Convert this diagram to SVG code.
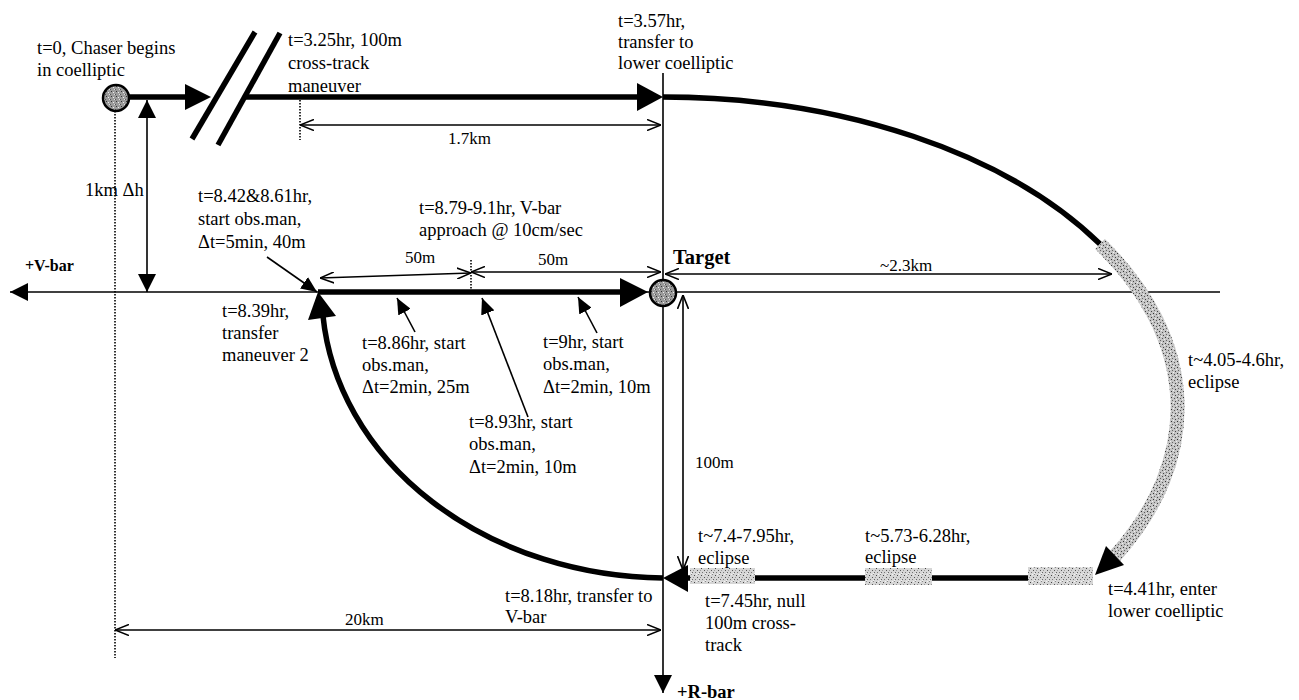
<svg xmlns="http://www.w3.org/2000/svg" width="1299" height="700" viewBox="0 0 1299 700">
<style>
text{font-family:"Liberation Serif","Times New Roman",serif;fill:#000}
.m{font-size:18.5px}
.s{font-size:17px}
.b{font-weight:bold}
.thin{stroke:#000;stroke-width:1.6;fill:none}
.thick{stroke:#000;stroke-width:5.5;fill:none}
.dot{stroke:#000;stroke-width:1.6;stroke-dasharray:1.5 1.5;fill:none}
.head{fill:#000}
</style>
<defs>
<pattern id="spk" width="7" height="7" patternUnits="userSpaceOnUse">
<rect width="7" height="7" fill="#d6d6d6"/>
<rect x="1" y="1" width="1" height="1" fill="#444"/>
<rect x="4" y="3" width="1" height="1" fill="#555"/>
<rect x="2" y="5" width="1" height="1" fill="#777"/>
<rect x="5" y="0" width="1" height="1" fill="#888"/>
<rect x="6" y="5" width="1" height="1" fill="#666"/>
<rect x="0" y="3" width="1" height="1" fill="#999"/>
<rect x="3" y="0" width="1" height="1" fill="#f4f4f4"/>
<rect x="5" y="6" width="1" height="1" fill="#f4f4f4"/>
</pattern>
<pattern id="spk3" width="6" height="6" patternUnits="userSpaceOnUse">
<rect width="6" height="6" fill="#c4c4c4"/>
<rect x="1" y="1" width="1" height="1" fill="#333"/>
<rect x="4" y="2" width="1" height="1" fill="#555"/>
<rect x="2" y="4" width="1" height="1" fill="#666"/>
<rect x="5" y="5" width="1" height="1" fill="#444"/>
<rect x="0" y="3" width="1" height="1" fill="#eee"/>
<rect x="3" y="0" width="1" height="1" fill="#f2f2f2"/>
</pattern>
<pattern id="spk2" width="5" height="5" patternUnits="userSpaceOnUse">
<rect width="5" height="5" fill="#9a9a9a"/>
<rect x="1" y="1" width="1" height="1" fill="#333"/>
<rect x="3" y="2" width="1" height="1" fill="#eee"/>
<rect x="0" y="4" width="1" height="1" fill="#555"/>
<rect x="4" y="4" width="1" height="1" fill="#ddd"/>
</pattern>
<marker id="tri" viewBox="0 0 16 14" refX="16" refY="7" markerWidth="16" markerHeight="14" markerUnits="userSpaceOnUse" orient="auto-start-reverse">
<path d="M0,0 L16,7 L0,14 z" fill="#000"/>
</marker>
<marker id="bigtri" viewBox="0 0 18 18" refX="18" refY="9" markerWidth="18" markerHeight="18" markerUnits="userSpaceOnUse" orient="auto-start-reverse">
<path d="M0,0 L18,9 L0,18 z" fill="#000"/>
</marker>
<marker id="chev" viewBox="0 0 14 12" refX="14" refY="6" markerWidth="14" markerHeight="12" markerUnits="userSpaceOnUse" orient="auto-start-reverse">
<path d="M0,0.5 L14,6 L0,11.5" fill="none" stroke="#000" stroke-width="1.6"/>
</marker>
</defs>
<rect width="1299" height="700" fill="#fff"/>

<g id="connectors">
<line class="thin" x1="1220" y1="292" x2="10" y2="292" marker-end="url(#bigtri)"/>
<line class="thin" x1="663" y1="73" x2="663" y2="693" stroke-width="2" marker-end="url(#bigtri)"/>
<line class="dot" x1="115" y1="111" x2="115" y2="658"/>
<line class="thin" x1="147" y1="100" x2="147" y2="292" stroke-width="2" marker-start="url(#bigtri)" marker-end="url(#bigtri)"/>
<line class="thick" x1="129" y1="97" x2="188" y2="97"/>
<polygon class="head" points="211,97 185,84 185,110"/>
<line class="thick" x1="192" y1="139" x2="255" y2="32" stroke-width="5"/>
<line class="thick" x1="218" y1="145" x2="280" y2="33" stroke-width="5"/>
<line class="thick" x1="246" y1="97" x2="640" y2="97"/>
<polygon class="head" points="663,97 637,83 637,111"/>
<line class="dot" x1="300" y1="100" x2="300" y2="140"/>
<line class="thin" x1="300" y1="125" x2="661" y2="125" marker-start="url(#chev)" marker-end="url(#chev)"/>
<path class="thick" d="M663,97 A514,310 0 0 1 1100,244"/>
<path d="M1100,244 A514,310 0 0 1 1115,556" fill="none" stroke="url(#spk3)" stroke-width="14"/>
<polygon class="head" points="1095,575 1106,546 1124,565"/>
<line class="thick" x1="686" y1="578" x2="1093" y2="578"/>
<rect x="690" y="568" width="65" height="16" fill="url(#spk)"/>
<rect x="865" y="568" width="67" height="17" fill="url(#spk)"/>
<rect x="1028" y="567" width="65" height="18" fill="url(#spk)"/>
<polygon class="head" points="663,578 688,565 688,592"/>
<path class="thick" d="M663,578 A345,286 0 0 1 323,316"/>
<polygon class="head" points="318,292 308,320 336,316"/>
<line class="thick" x1="318" y1="292" x2="622" y2="292"/>
<polygon class="head" points="648,292 620,278 620,307"/>
<line class="dot" x1="471" y1="260" x2="471" y2="290"/>
<line class="thin" x1="320" y1="278" x2="471" y2="273" marker-start="url(#chev)" marker-end="url(#chev)"/>
<line class="thin" x1="471" y1="272" x2="661" y2="272" marker-start="url(#chev)" marker-end="url(#chev)"/>
<line class="thin" x1="665" y1="274" x2="1112" y2="274" marker-start="url(#chev)" marker-end="url(#chev)"/>
<line class="thin" x1="683" y1="295" x2="683" y2="570" marker-start="url(#chev)" marker-end="url(#chev)"/>
<line class="thin" x1="115" y1="630" x2="661" y2="630" marker-start="url(#chev)" marker-end="url(#chev)"/>
<line class="thin" x1="267" y1="257" x2="317" y2="292" marker-end="url(#tri)"/>
<line class="thin" x1="415" y1="332" x2="397" y2="298" marker-end="url(#tri)"/>
<line class="thin" x1="528" y1="417" x2="482" y2="298" marker-end="url(#tri)"/>
<line class="thin" x1="597" y1="333" x2="578" y2="297" marker-end="url(#tri)"/>
</g>

<g id="chaser">
<circle cx="116" cy="98" r="13" fill="url(#spk2)" stroke="#000" stroke-width="2.5"/>
<text class="m" x="37" y="54">t=0, Chaser begins</text>
<text class="m" x="37" y="76">in coelliptic</text>
</g>

<g id="target">
<circle cx="663" cy="293" r="13" fill="url(#spk2)" stroke="#000" stroke-width="2.5"/>
<text class="b" x="673" y="264" font-size="20.5">Target</text>
</g>

<g id="labels">
<text class="m" x="288" y="46">t=3.25hr, 100m</text>
<text class="m" x="288" y="69">cross-track</text>
<text class="m" x="288" y="92">maneuver</text>
<text class="m" x="618" y="27">t=3.57hr,</text>
<text class="m" x="618" y="48">transfer to</text>
<text class="m" x="618" y="69">lower coelliptic</text>
<text class="s" x="448" y="144">1.7km</text>
<text class="m" x="85" y="196">1km Δh</text>
<text class="m" x="198" y="202">t=8.42&amp;8.61hr,</text>
<text class="m" x="198" y="225">start obs.man,</text>
<text class="m" x="198" y="248">Δt=5min, 40m</text>
<text class="m" x="419" y="214">t=8.79-9.1hr, V-bar</text>
<text class="m" x="419" y="236">approach @ 10cm/sec</text>
<text class="s" x="405" y="263">50m</text>
<text class="s" x="538" y="265">50m</text>
<text class="s" x="880" y="271">~2.3km</text>
<text class="b" x="25" y="271" font-size="16">+V-bar</text>
<text class="m" x="222" y="317">t=8.39hr,</text>
<text class="m" x="222" y="339">transfer</text>
<text class="m" x="222" y="361">maneuver 2</text>
<text class="m" x="362" y="349">t=8.86hr, start</text>
<text class="m" x="362" y="371">obs.man,</text>
<text class="m" x="362" y="393">Δt=2min, 25m</text>
<text class="m" x="543" y="348">t=9hr, start</text>
<text class="m" x="543" y="370">obs.man,</text>
<text class="m" x="543" y="393">Δt=2min, 10m</text>
<text class="m" x="469" y="428">t=8.93hr, start</text>
<text class="m" x="469" y="450">obs.man,</text>
<text class="m" x="469" y="473">Δt=2min, 10m</text>
<text class="m" x="1188" y="366">t~4.05-4.6hr,</text>
<text class="m" x="1188" y="388">eclipse</text>
<text class="s" x="695" y="468">100m</text>
<text class="m" x="698" y="542">t~7.4-7.95hr,</text>
<text class="m" x="698" y="564">eclipse</text>
<text class="m" x="865" y="542">t~5.73-6.28hr,</text>
<text class="m" x="865" y="563">eclipse</text>
<text class="m" x="1108" y="595">t=4.41hr, enter</text>
<text class="m" x="1108" y="617">lower coelliptic</text>
<text class="m" x="505" y="602">t=8.18hr, transfer to</text>
<text class="m" x="505" y="623">V-bar</text>
<text class="m" x="705" y="607">t=7.45hr, null</text>
<text class="m" x="705" y="629">100m cross-</text>
<text class="m" x="705" y="651">track</text>
<text class="s" x="345" y="625">20km</text>
<text class="b" x="677" y="698" font-size="18.5">+R-bar</text>
</g>
</svg>
